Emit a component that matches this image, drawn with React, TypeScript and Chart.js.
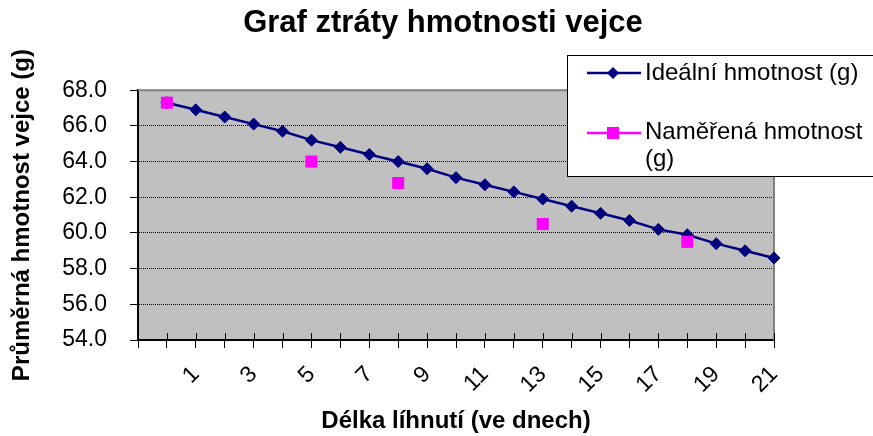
import React, { useEffect, useRef } from 'react';
import { Chart, registerables } from 'chart.js';

Chart.register(...registerables);

const chartTitle = 'Graf ztráty hmotnosti vejce';
const xAxisTitle = 'Délka líhnutí (ve dnech)';
const yAxisTitle = 'Průměrná hmotnost vejce (g)';
const idealLabel = 'Ideální hmotnost (g)';
const measuredLabel = 'Naměřená hmotnost (g)';
const measuredLegendLines = ['Naměřená hmotnost', '(g)'];

const idealDays = [0, 1, 2, 3, 4, 5, 6, 7, 8, 9, 10, 11, 12, 13, 14, 15, 16, 17, 18, 19, 20, 21];
const idealMass = [67.3, 66.9, 66.5, 66.1, 65.7, 65.2, 64.8, 64.4, 64.0, 63.6, 63.1, 62.7, 62.3, 61.9, 61.5, 61.1, 60.7, 60.2, 59.9, 59.4, 59.0, 58.6];
const measuredDays = [0, 5, 8, 13, 18];
const measuredMass = [67.3, 64.0, 62.8, 60.5, 59.5];
const xTickLabels = ['1', '3', '5', '7', '9', '11', '13', '15', '17', '19', '21'];

const yMin = 54;
const yMax = 68;
const yStep = 2;
const xMin = -1;
const xMax = 21;

const FONT = "'Liberation Sans', Arial, sans-serif";
const NAVY = '#000080';
const MAGENTA = '#FF00FF';

const plotPlugin = {
  id: 'plotDecor',
  beforeDraw(chart: any) {
    const { ctx, chartArea: a } = chart;
    ctx.save();
    ctx.fillStyle = '#C0C0C0';
    ctx.fillRect(a.left, a.top, a.right - a.left, a.bottom - a.top);
    ctx.restore();
  },
  beforeDatasetsDraw(chart: any) {
    const { ctx, chartArea: a } = chart;
    ctx.save();
    ctx.strokeStyle = '#808080';
    ctx.lineWidth = 2;
    ctx.beginPath();
    ctx.moveTo(a.left, a.top);
    ctx.lineTo(a.right, a.top);
    ctx.lineTo(a.right, a.bottom);
    ctx.stroke();
    const xs = chart.scales.x;
    ctx.strokeStyle = '#000';
    ctx.lineWidth = 1;
    ctx.beginPath();
    xs.ticks.forEach((t: any) => {
      const px = Math.round(xs.getPixelForValue(t.value)) + 0.5;
      ctx.moveTo(px, a.bottom - 7);
      ctx.lineTo(px, a.bottom);
    });
    ctx.stroke();
    ctx.restore();
  },
  afterDraw(chart: any) {
    const { ctx } = chart;
    ctx.save();
    ctx.fillStyle = '#fff';
    ctx.fillRect(567, 55, 330, 122);
    ctx.strokeStyle = '#000';
    ctx.lineWidth = 1;
    ctx.strokeRect(567.5, 55.5, 330, 121);

    ctx.strokeStyle = NAVY;
    ctx.lineWidth = 2.5;
    ctx.beginPath();
    ctx.moveTo(587, 73);
    ctx.lineTo(641, 73);
    ctx.stroke();
    ctx.fillStyle = NAVY;
    ctx.beginPath();
    ctx.moveTo(613, 67);
    ctx.lineTo(619, 73);
    ctx.lineTo(613, 79);
    ctx.lineTo(607, 73);
    ctx.closePath();
    ctx.fill();

    ctx.strokeStyle = MAGENTA;
    ctx.beginPath();
    ctx.moveTo(587, 133);
    ctx.lineTo(641, 133);
    ctx.stroke();
    ctx.fillStyle = MAGENTA;
    ctx.fillRect(607, 127, 12, 12);

    ctx.fillStyle = '#000';
    ctx.font = `24px ${FONT}`;
    ctx.textBaseline = 'middle';
    ctx.textAlign = 'left';
    ctx.fillText(idealLabel, 645, 73.5);
    ctx.fillText(measuredLegendLines[0], 645, 132.5);
    ctx.fillText(measuredLegendLines[1], 645, 159);
    ctx.restore();
  },
};

export default function App() {
  const canvasRef = useRef<HTMLCanvasElement | null>(null);

  useEffect(() => {
    document.body.style.margin = '0';
    const canvas = canvasRef.current;
    if (!canvas) return;
    const chart = new Chart(canvas, {
      type: 'line',
      data: {
        datasets: [
          {
            label: idealLabel,
            data: idealDays.map((d, i) => ({ x: d, y: idealMass[i] })),
            borderColor: NAVY,
            backgroundColor: NAVY,
            borderWidth: 2.5,
            pointStyle: 'rectRot',
            pointRadius: 6,
            pointBackgroundColor: NAVY,
            pointBorderColor: NAVY,
            pointBorderWidth: 1,
            tension: 0,
            clip: false,
            order: 2,
          },
          {
            label: measuredLabel,
            data: measuredDays.map((d, i) => ({ x: d, y: measuredMass[i] })),
            showLine: false,
            borderColor: MAGENTA,
            backgroundColor: MAGENTA,
            pointStyle: 'rect',
            pointRadius: 8.5,
            pointBackgroundColor: MAGENTA,
            pointBorderColor: MAGENTA,
            pointBorderWidth: 0,
            clip: false,
            order: 1,
          },
        ],
      },
      options: {
        animation: false,
        responsive: false,
        devicePixelRatio: 1,
        layout: { padding: { left: 13, right: 0, top: 0, bottom: 0 } },
        plugins: {
          legend: { display: false },
          tooltip: { enabled: false },
          title: {
            display: true,
            text: chartTitle,
            color: '#000',
            font: { family: FONT, size: 31, weight: 'bold' },
            padding: { top: 5, bottom: 48 },
          },
        },
        scales: {
          x: {
            type: 'linear',
            min: xMin,
            max: xMax,
            afterFit: (s: any) => {
              s.height = 96;
            },
            ticks: {
              stepSize: 1,
              autoSkip: false,
              minRotation: 45,
              maxRotation: 45,
              padding: 13,
              color: '#000',
              font: { family: FONT, size: 23 },
              callback: (v: any) => (xTickLabels.includes(String(v)) ? String(v) : ''),
            },
            grid: {
              display: true,
              drawOnChartArea: false,
              drawTicks: true,
              tickLength: 8,
              color: '#000',
              tickColor: '#000',
              lineWidth: 1,
            },
            border: { display: true, color: '#000', width: 2 },
            title: {
              display: true,
              text: xAxisTitle,
              color: '#000',
              font: { family: FONT, size: 24, weight: 'bold' },
              padding: { top: 0, bottom: 0 },
            },
          },
          y: {
            type: 'linear',
            position: 'left',
            min: yMin,
            max: yMax,
            afterFit: (s: any) => {
              s.width = 125;
            },
            ticks: {
              stepSize: yStep,
              padding: 23,
              color: '#000',
              font: { family: FONT, size: 23 },
              callback: (v: any) => Number(v).toFixed(1),
            },
            grid: {
              drawOnChartArea: true,
              drawTicks: true,
              tickLength: 8,
              lineWidth: 1,
              color: (c: any) =>
                c.tick && (c.tick.value === yMin || c.tick.value === yMax) ? 'rgba(0,0,0,0)' : '#000',
              tickColor: '#000',
              tickBorderDash: [],
            },
            border: { display: true, color: '#000', width: 2, dash: [1, 1] },
            title: {
              display: true,
              text: yAxisTitle,
              color: '#000',
              font: { family: FONT, size: 24, weight: 'bold' },
              padding: { top: -5, bottom: 0 },
            },
          },
          yRight: {
            type: 'linear',
            position: 'right',
            display: true,
            afterFit: (s: any) => {
              s.width = 99;
            },
            ticks: { display: false },
            grid: { display: false },
            border: { display: false },
          },
        },
      },
      plugins: [plotPlugin],
    } as any);
    return () => chart.destroy();
  }, []);

  return (
    <div style={{ width: 873, height: 436 }}>
      <canvas ref={canvasRef} width={873} height={436} />
    </div>
  );
}
